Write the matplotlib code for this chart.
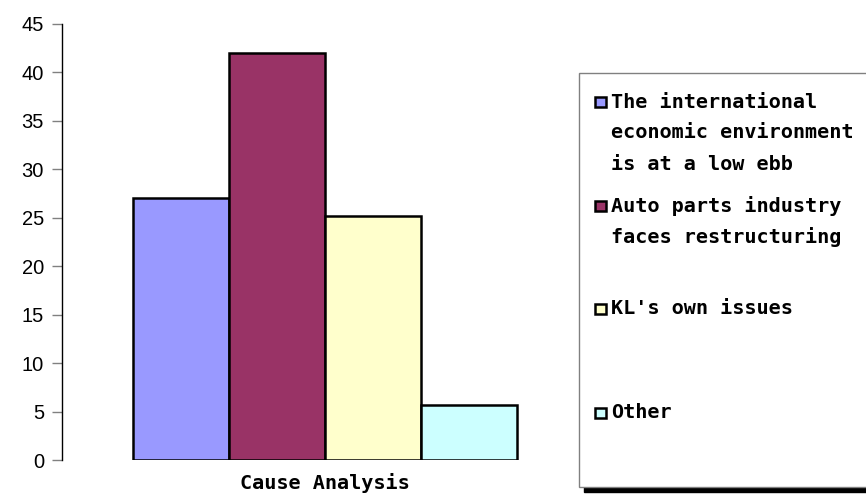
import matplotlib.pyplot as plt
from matplotlib.patches import Rectangle

categories = ["The international\neconomic environment\nis at a low ebb",
              "Auto parts industry\nfaces restructuring",
              "KL's own issues",
              "Other"]
values = [27, 42, 25.2, 5.7]
colors = ["#9999FF", "#993366", "#FFFFCC", "#CCFFFF"]
yticks = [0, 5, 10, 15, 20, 25, 30, 35, 40, 45]
xlabel = "Cause Analysis"

W, H = 866, 495
fig = plt.figure(figsize=(W / 100, H / 100), dpi=100)
ax = fig.add_axes([62 / W, 1 - 460 / H, (588 - 62) / W, (460 - 24) / H])

pos = list(range(len(values)))
ax.bar(pos, values, width=1.0, color=colors, edgecolor="black", linewidth=1.8)
ax.set_xlim(-0.5 - 0.74, len(values) - 0.5 + 0.74)
ax.set_ylim(0, 45)
ax.set_yticks(yticks)
ax.tick_params(axis="y", direction="out", length=7, width=1, color="#808080",
               labelsize=14.5, pad=6)
for t in ax.get_yticklabels():
    t.set_fontfamily("Liberation Sans")
ax.set_xticks([])
for s in ["top", "right", "bottom"]:
    ax.spines[s].set_visible(False)
ax.spines["left"].set_linewidth(1)

mono = dict(family="DejaVu Sans Mono", weight="bold", fontsize=14.5)
fig.text(325 / W, 1 - 483 / H, xlabel, ha="center", va="center", **mono)

# legend box with shadow
def px(x, y):
    return x / W, 1 - y / H

fig.patches.append(Rectangle(px(584, 492), (W - 584) / W, 5 / H,
                             transform=fig.transFigure, color="black"))
fig.patches.append(Rectangle(px(579, 487), (W + 5 - 579) / W, (487 - 73) / H,
                             transform=fig.transFigure, facecolor="white",
                             edgecolor="#808080", linewidth=1))

line_y = [[102, 133, 165], [206, 237], [309], [413]]
for label, c, ys in zip(categories, colors, line_y):
    fig.patches.append(Rectangle(px(595, ys[0] + 5), 11 / W, 10 / H,
                                 transform=fig.transFigure, facecolor=c,
                                 edgecolor="black", linewidth=1.8))
    for line, y in zip(label.split("\n"), ys):
        fig.text(611 / W, 1 - y / H, line, ha="left", va="center", **mono)

fig.savefig("out.png", dpi=100)
